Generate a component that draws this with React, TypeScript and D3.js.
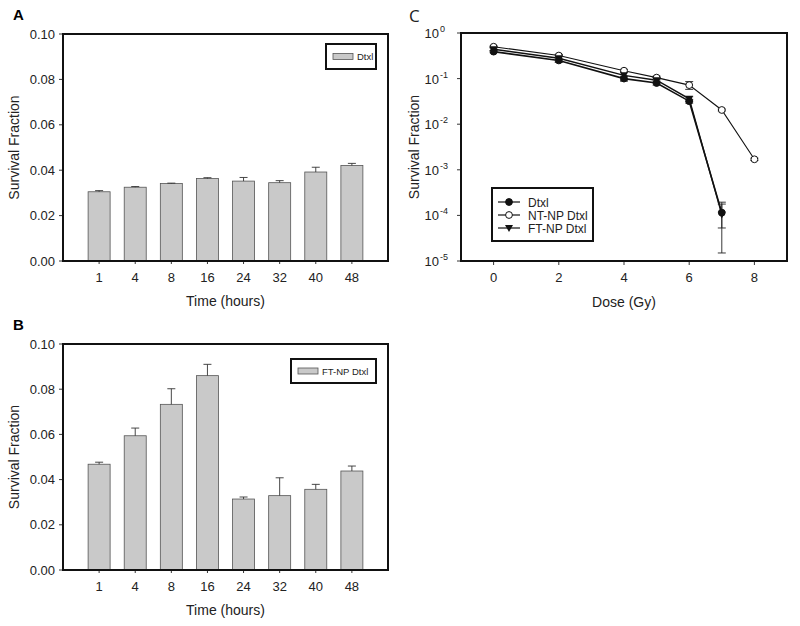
import React from 'react';
import * as d3 from 'd3';

// ---------- Data ----------
const timeCategories = ['1', '4', '8', '16', '24', '32', '40', '48'];
const dtxlBarValues = [0.0305, 0.0325, 0.0341, 0.0363, 0.0352, 0.0345, 0.0392, 0.0421];
const dtxlBarErrors = [0.0005, 0.0003, 0.0002, 0.0004, 0.0016, 0.0009, 0.0021, 0.0009];
const ftnpBarValues = [0.0468, 0.0594, 0.0733, 0.086, 0.0314, 0.0329, 0.0357, 0.0438];
const ftnpBarErrors = [0.0009, 0.0034, 0.0069, 0.005, 0.0009, 0.0079, 0.0022, 0.0022];
const barYTicks = [0, 0.02, 0.04, 0.06, 0.08, 0.1];

const doseTicks = [0, 2, 4, 6, 8];
const logTickExponents = [0, -1, -2, -3, -4, -5];

const dtxlDoses = [0, 2, 4, 5, 6, 7];
const dtxlSurvival = [0.39, 0.25, 0.1, 0.08, 0.032, 1.15e-4];
const dtxlSurvivalErr = [0.02, 0.02, 0.012, 0.008, 0.003, 0.62e-4];

const ntnpDoses = [0, 2, 4, 5, 6, 7, 8];
const ntnpSurvival = [0.5, 0.32, 0.149, 0.105, 0.072, 0.0205, 0.0017];
const ntnpSurvivalErr = [0.02, 0.02, 0.01, 0.008, 0.014, 0.001, 0.0001];

const ftnpDoses = [0, 2, 4, 5, 6, 7];
const ftnpSurvival = [0.44, 0.28, 0.118, 0.092, 0.036, 1.05e-4];
const ftnpSurvivalErr = [0.03, 0.05, 0.025, 0.012, 0.004, 0.9e-4];

const FONT = '"Liberation Sans", Arial, sans-serif';

type BarPanelProps = {
  letter: string;
  left: number; top: number; right: number; bottom: number;
  values: number[]; errors: number[];
  legendLabel: string;
  legendBox: [number, number, number, number];
};

function BarPanel(p: BarPanelProps) {
  const x = d3.scaleLinear().domain([0, 9]).range([p.left, p.right]);
  const y = d3.scaleLinear().domain([0, 0.1]).range([p.bottom, p.top]);
  const bw = 22;
  const [lx, ly, lw, lh] = p.legendBox;
  return (
    <g fontFamily={FONT}>
      <text x={p.left - 50} y={p.top - 14} fontSize={15} fontWeight="bold">{p.letter}</text>
      {p.values.map((v, i) => {
        const cx = x(i + 1);
        const e = p.errors[i];
        return (
          <g key={i}>
            <rect x={cx - bw / 2} y={y(v)} width={bw} height={p.bottom - y(v)} fill="#c9c9c9" stroke="#555" strokeWidth={0.8} />
            <line x1={cx} x2={cx} y1={y(v)} y2={y(v + e)} stroke="#333" strokeWidth={0.9} />
            <line x1={cx - 4} x2={cx + 4} y1={y(v + e)} y2={y(v + e)} stroke="#333" strokeWidth={0.9} />
            <line x1={cx} x2={cx} y1={p.bottom} y2={p.bottom + 3} stroke="#000" strokeWidth={0.8} />
            <text x={cx} y={p.bottom + 21} fontSize={13} textAnchor="middle" fill="#222">{timeCategories[i]}</text>
          </g>
        );
      })}
      {barYTicks.map((t) => (
        <g key={t}>
          <line x1={p.left - 4} x2={p.left} y1={y(t)} y2={y(t)} stroke="#000" strokeWidth={0.8} />
          <text x={p.left - 8} y={y(t) + 4.5} fontSize={13} textAnchor="end" fill="#222">{t.toFixed(2)}</text>
        </g>
      ))}
      <rect x={p.left} y={p.top} width={p.right - p.left} height={p.bottom - p.top} fill="none" stroke="#111" strokeWidth={2} />
      <text x={(p.left + p.right) / 2} y={p.bottom + 45} fontSize={14} textAnchor="middle" fill="#222">Time (hours)</text>
      <text transform={`translate(${p.left - 44},${(p.top + p.bottom) / 2}) rotate(-90)`} fontSize={14} textAnchor="middle" fill="#222">Survival Fraction</text>
      <rect x={lx} y={ly} width={lw} height={lh} fill="#fff" stroke="#111" strokeWidth={2} />
      <rect x={lx + 7} y={ly + lh / 2 - 3} width={20} height={6} fill="#c9c9c9" stroke="#555" strokeWidth={0.8} />
      <text x={lx + 31} y={ly + lh / 2 + 3.5} fontSize={9.5} fill="#222">{p.legendLabel}</text>
    </g>
  );
}

type Series = { name: string; doses: number[]; vals: number[]; errs: number[]; marker: 'filled' | 'open' | 'tri'; width: number };

const seriesList: Series[] = [
  { name: 'NT-NP Dtxl', doses: ntnpDoses, vals: ntnpSurvival, errs: ntnpSurvivalErr, marker: 'open', width: 1.1 },
  { name: 'FT-NP Dtxl', doses: ftnpDoses, vals: ftnpSurvival, errs: ftnpSurvivalErr, marker: 'tri', width: 1.4 },
  { name: 'Dtxl', doses: dtxlDoses, vals: dtxlSurvival, errs: dtxlSurvivalErr, marker: 'filled', width: 1.6 },
];
const legendOrder = ['Dtxl', 'NT-NP Dtxl', 'FT-NP Dtxl'];

function Marker({ kind, cx, cy }: { kind: string; cx: number; cy: number }) {
  if (kind === 'open') return <circle cx={cx} cy={cy} r={3.4} fill="#fff" stroke="#111" strokeWidth={1} />;
  if (kind === 'filled') return <circle cx={cx} cy={cy} r={3.4} fill="#111" stroke="#111" strokeWidth={1} />;
  const s = 4;
  return <path d={`M${cx - s},${cy - s * 0.75} L${cx + s},${cy - s * 0.75} L${cx},${cy + s} Z`} fill="#111" />;
}

function LogPanel() {
  const left = 461, right = 787, top = 33, bottom = 261;
  const x = d3.scaleLinear().domain([-1, 9]).range([left, right]);
  const y = d3.scaleLog().domain([1e-5, 1]).range([bottom, top]);
  const line = d3.line<[number, number]>().x((d) => x(d[0])).y((d) => y(d[1]));
  const lg = { x: 492, y: 188, w: 101, h: 53 };
  return (
    <g fontFamily={FONT}>
      <text x={409} y={22} fontSize={17} fill="#222" fontFamily='"Open Sans", sans-serif'>C</text>
      {seriesList.map((s) => (
        <g key={s.name}>
          <path d={line(s.doses.map((d, i) => [d, s.vals[i]]) as [number, number][]) || ''} fill="none" stroke="#111" strokeWidth={s.width} />
          {s.doses.map((d, i) => {
            const hi = s.vals[i] + s.errs[i];
            const lo = Math.max(s.vals[i] - s.errs[i], 1.2e-5);
            return (
              <g key={i}>
                <line x1={x(d)} x2={x(d)} y1={y(hi)} y2={y(lo)} stroke="#222" strokeWidth={0.9} />
                <line x1={x(d) - 4} x2={x(d) + 4} y1={y(hi)} y2={y(hi)} stroke="#222" strokeWidth={0.9} />
                <line x1={x(d) - 4} x2={x(d) + 4} y1={y(lo)} y2={y(lo)} stroke="#222" strokeWidth={0.9} />
              </g>
            );
          })}
        </g>
      ))}
      {seriesList.map((s) => (
        <g key={s.name + 'm'}>
          {s.doses.map((d, i) => <Marker key={i} kind={s.marker} cx={x(d)} cy={y(s.vals[i])} />)}
        </g>
      ))}
      {doseTicks.map((t) => (
        <g key={t}>
          <line x1={x(t)} x2={x(t)} y1={bottom} y2={bottom + 4} stroke="#000" strokeWidth={0.8} />
          <text x={x(t)} y={bottom + 21} fontSize={13} textAnchor="middle" fill="#222">{t}</text>
        </g>
      ))}
      {logTickExponents.map((e) => (
        <g key={e}>
          <line x1={left - 4} x2={left} y1={y(Math.pow(10, e))} y2={y(Math.pow(10, e))} stroke="#000" strokeWidth={0.8} />
          <text x={left - 22} y={y(Math.pow(10, e)) + 5} fontSize={13} textAnchor="end" fill="#222">10</text>
          <text x={left - 21} y={y(Math.pow(10, e)) - 1} fontSize={9} textAnchor="start" fill="#222">{e}</text>
        </g>
      ))}
      <rect x={left} y={top} width={right - left} height={bottom - top} fill="none" stroke="#111" strokeWidth={2} />
      <text x={(left + right) / 2} y={307} fontSize={14} textAnchor="middle" fill="#222">Dose (Gy)</text>
      <text transform={`translate(419,${(top + bottom) / 2}) rotate(-90)`} fontSize={14} textAnchor="middle" fill="#222">Survival Fraction</text>
      <rect x={lg.x} y={lg.y} width={lg.w} height={lg.h} fill="#fff" stroke="#111" strokeWidth={2} />
      {legendOrder.map((nm, i) => {
        const s = seriesList.find((q) => q.name === nm)!;
        const yy = lg.y + 14 + i * 13;
        return (
          <g key={nm}>
            <line x1={lg.x + 6} x2={lg.x + 28} y1={yy} y2={yy} stroke="#111" strokeWidth={1.2} />
            <Marker kind={s.marker} cx={lg.x + 17} cy={yy} />
            <text x={lg.x + 36} y={yy + 4.5} fontSize={12} fill="#222">{nm}</text>
          </g>
        );
      })}
    </g>
  );
}

export default function App() {
  return (
    <svg width={800} height={626} style={{ position: 'absolute', left: 0, top: 0, background: '#fff' }}>
      <rect x={0} y={0} width={800} height={626} fill="#fff" />
      <BarPanel letter="A" left={63} top={34} right={388} bottom={261}
        values={dtxlBarValues} errors={dtxlBarErrors} legendLabel="Dtxl" legendBox={[326, 44, 50, 25]} />
      <BarPanel letter="B" left={63} top={344} right={388} bottom={570}
        values={ftnpBarValues} errors={ftnpBarErrors} legendLabel="FT-NP Dtxl" legendBox={[291, 359, 85, 24]} />
      <LogPanel />
    </svg>
  );
}
